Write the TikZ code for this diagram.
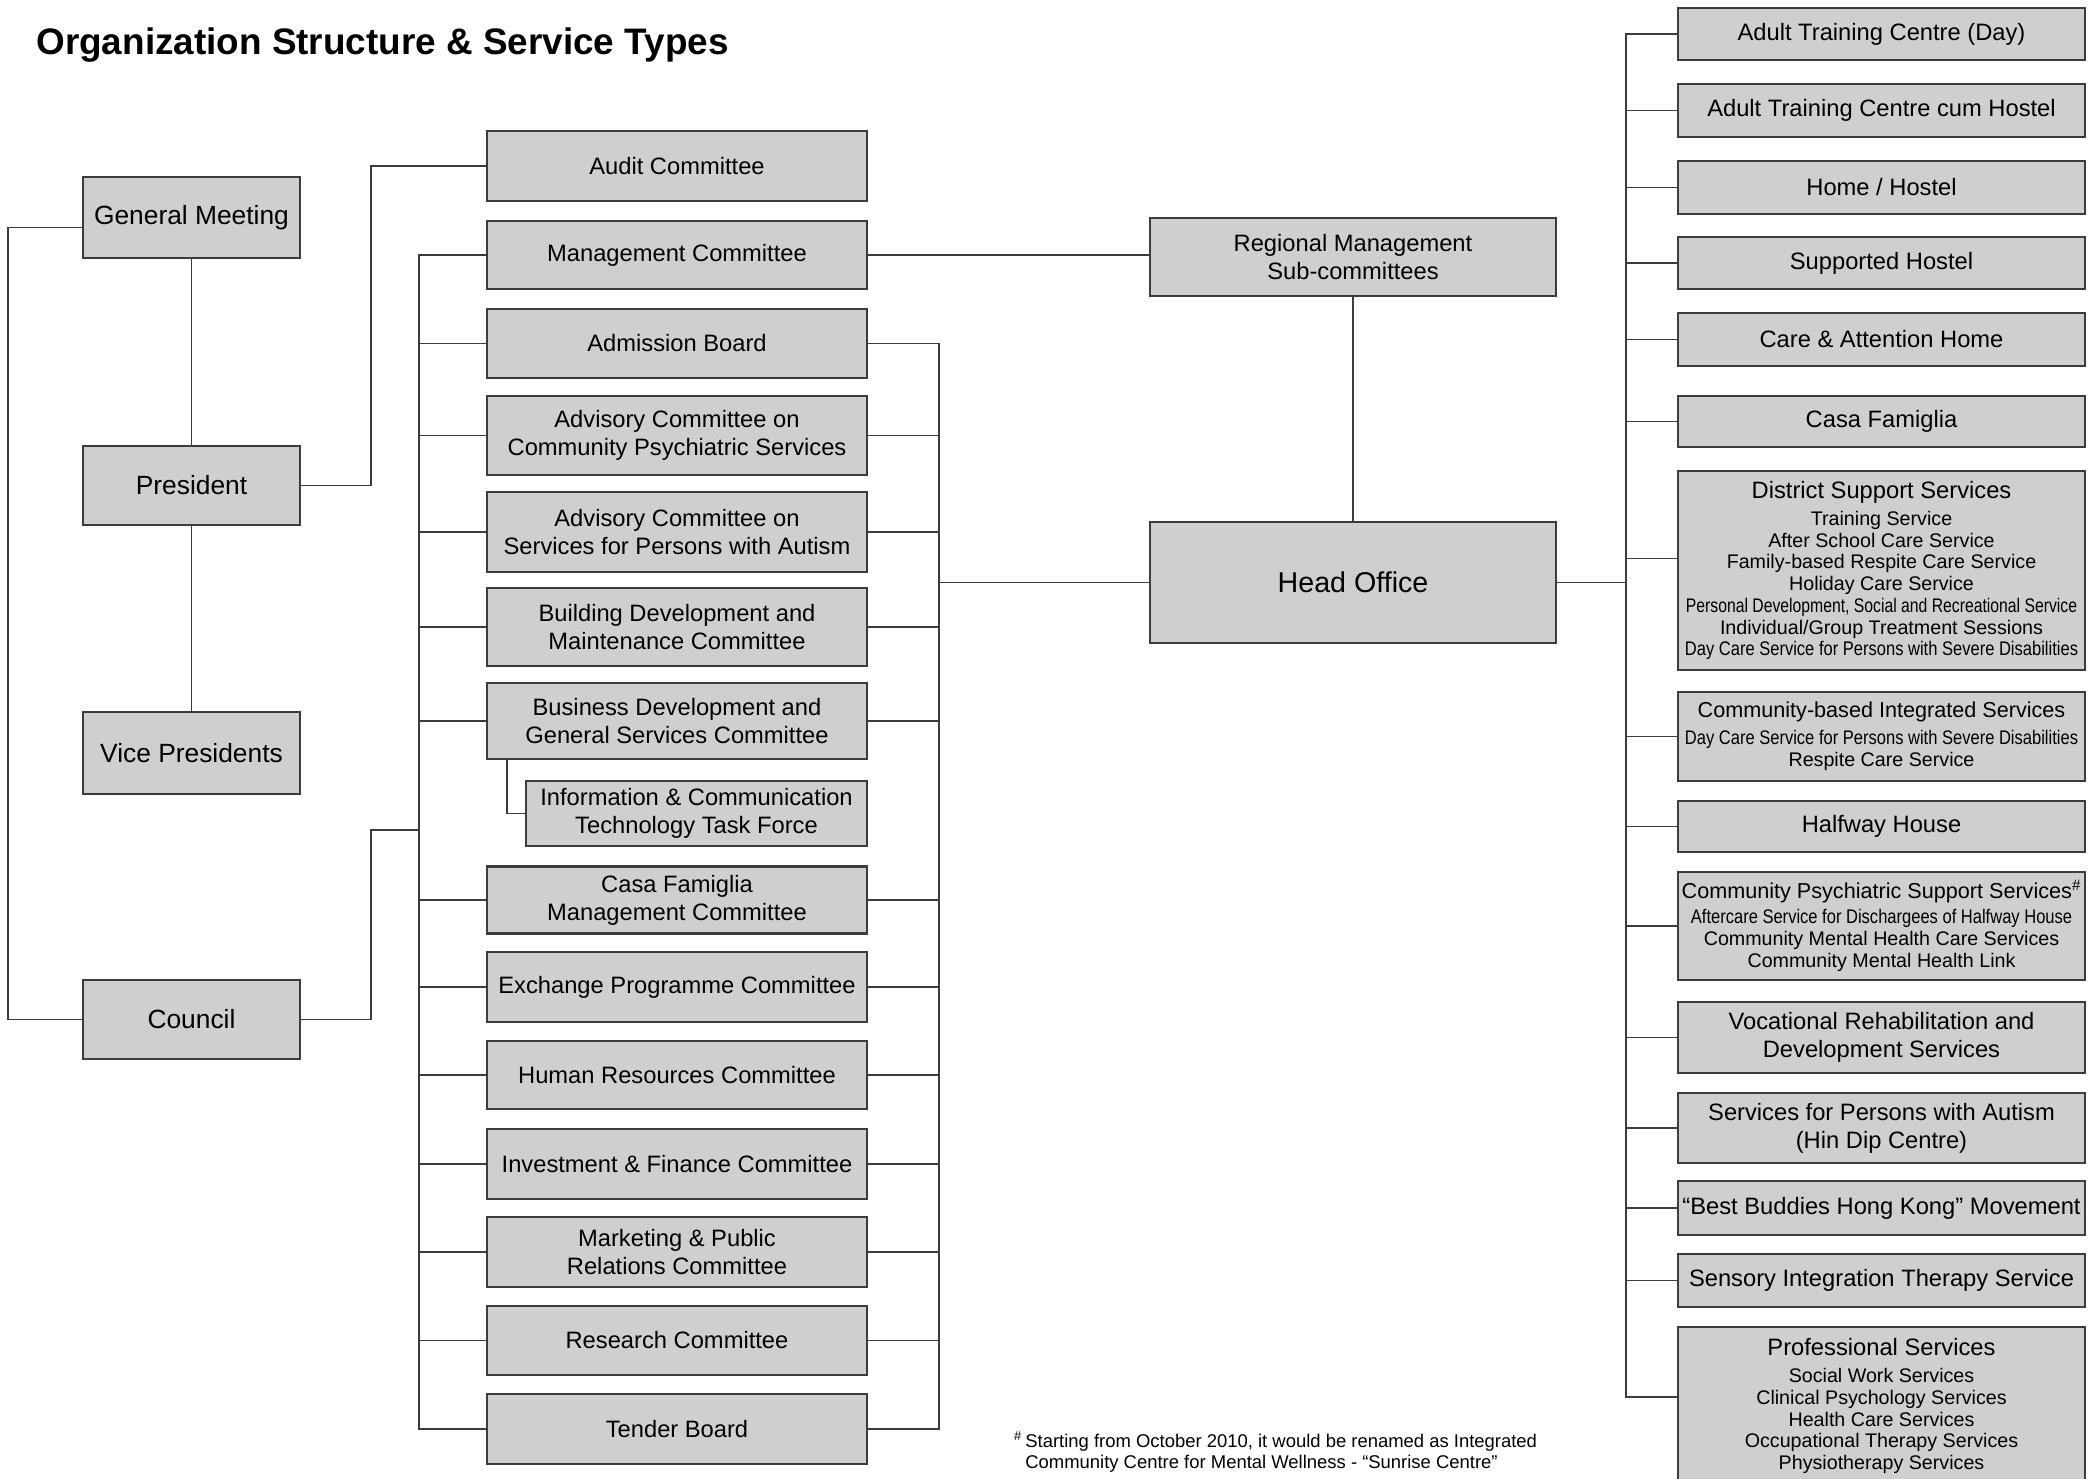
\documentclass[tikz,border=0pt]{standalone}
\usepackage{fontspec}
\setmainfont{Liberation Sans}
\newfontfamily\narrowfont[FakeStretch=0.84]{Liberation Sans}
\newfontfamily\narrowerfont[FakeStretch=0.8]{Liberation Sans}
\definecolor{boxfill}{RGB}{207,207,207}
\definecolor{edge}{RGB}{60,60,60}
\tikzset{
    box/.style={draw=edge, fill=boxfill, line width=1.3pt, inner sep=1pt, align=center, font=\fontsize{13.5}{16}\selectfont},
    topbox/.style={box, minimum width=4.34cm, font=\fontsize{15}{18}\selectfont},
    combox/.style={box, minimum width=7.6cm},
    svcbox/.style={box, minimum width=8.14cm},
    listbox/.style={svcbox, font=\fontsize{11.2}{12.4}\selectfont},
    link/.style={draw=edge, line width=1.1pt}
}
\newcommand{\listhead}[1]{{\fontsize{13.5}{16}\selectfont #1}}
\newcommand{\smallhead}[1]{{\fontsize{12.3}{15}\selectfont #1}}
\begin{document}
\begin{tikzpicture}[x=0.02cm, y=-0.02cm]
        \useasboundingbox (0,0) rectangle (2100,1478);
        \clip (0,0) rectangle (2100,1478);

        \node[anchor=west, inner sep=0, font=\bfseries\fontsize{21}{25}\selectfont] (title) at (36,45) {Organization Structure \& Service Types};

        \node[topbox, minimum height=1.62cm] (gm) at (191.5,217.5) {General Meeting};
        \node[topbox, minimum height=1.58cm] (pres) at (191.5,485.5) {President};
        \node[topbox, minimum height=1.64cm] (vp) at (191.5,753) {Vice Presidents};
        \node[topbox, minimum height=1.58cm] (council) at (191.5,1019.5) {Council};

        \node[combox, minimum height=1.4cm] (audit) at (677,166) {Audit Committee};
        \node[combox, minimum height=1.36cm] (mgmt) at (677,255) {Management Committee};
        \node[combox, minimum height=1.38cm] (admit) at (677,343.5) {Admission Board};
        \node[combox, minimum height=1.58cm] (advpsy) at (677,435.5) {Advisory Committee on\\Community Psychiatric Services};
        \node[combox, minimum height=1.6cm] (advaut) at (677,532) {Advisory Committee on\\Services for Persons with Autism};
        \node[combox, minimum height=1.56cm] (bldg) at (677,627) {Building Development and\\Maintenance Committee};
        \node[combox, minimum height=1.52cm] (busdev) at (677,721) {Business Development and\\General Services Committee};
        \node[box, minimum width=6.82cm, minimum height=1.3cm] (ict) at (696.5,813.5) {Information \& Communication\\Technology Task Force};
        \node[combox, minimum height=1.34cm] (casa) at (677,900) {Casa Famiglia\\Management Committee};
        \node[combox, minimum height=1.4cm] (exch) at (677,987) {Exchange Programme Committee};
        \node[combox, minimum height=1.36cm] (hr) at (677,1075) {Human Resources Committee};
        \node[combox, minimum height=1.4cm] (invest) at (677,1164) {Investment \& Finance Committee};
        \node[combox, minimum height=1.4cm] (mktg) at (677,1252) {Marketing \& Public\\Relations Committee};
        \node[combox, minimum height=1.38cm] (research) at (677,1340.5) {Research Committee};
        \node[combox, minimum height=1.4cm] (tender) at (677,1429) {Tender Board};

        \node[box, minimum width=8.12cm, minimum height=1.56cm] (reg) at (1353,257) {Regional Management\\Sub-committees};
        \node[box, minimum width=8.12cm, minimum height=2.42cm, font=\fontsize{16.3}{19}\selectfont] (ho) at (1353,582.5) {Head Office};

        \node[svcbox, minimum height=1.04cm] (atcday) at (1881.5,34) {Adult Training Centre (Day)};
        \node[svcbox, minimum height=1.06cm] (atchostel) at (1881.5,110.5) {Adult Training Centre cum Hostel};
        \node[svcbox, minimum height=1.06cm] (home) at (1881.5,187.5) {Home / Hostel};
        \node[svcbox, minimum height=1.04cm] (supp) at (1881.5,263) {Supported Hostel};
        \node[svcbox, minimum height=1.06cm] (care) at (1881.5,339.5) {Care \& Attention Home};
        \node[svcbox, minimum height=1.02cm] (casafam) at (1881.5,421.5) {Casa Famiglia};
        \node[listbox, minimum height=3.98cm] (district) at (1881.5,570.5) {\listhead{District Support Services}\\[3pt]
            Training Service\\After School Care Service\\Family-based Respite Care Service\\Holiday Care Service\\
            {\narrowerfont Personal Development, Social and Recreational Service}\\Individual/Group Treatment Sessions\\
            {\narrowfont Day Care Service for Persons with Severe Disabilities}};
        \node[listbox, minimum height=1.78cm] (commint) at (1881.5,736.5) {\smallhead{Community-based Integrated Services}\\[3pt]
            {\narrowfont Day Care Service for Persons with Severe Disabilities}\\Respite Care Service};
        \node[svcbox, minimum height=1.02cm] (halfway) at (1881.5,826.5) {Halfway House};
        \node[listbox, minimum height=2.16cm] (cpss) at (1881.5,926) {\smallhead{Community Psychiatric Support Services\textsuperscript{\#}}\\[2pt]
            {\narrowfont Aftercare Service for Dischargees of Halfway House}\\Community Mental Health Care Services\\Community Mental Health Link};
        \node[svcbox, minimum height=1.42cm] (voc) at (1881.5,1037.5) {Vocational Rehabilitation and\\Development Services};
        \node[svcbox, minimum height=1.4cm] (autism) at (1881.5,1128) {Services for Persons with Autism\\(Hin Dip Centre)};
        \node[svcbox, minimum height=1.08cm] (buddies) at (1881.5,1208) {“Best Buddies Hong Kong” Movement};
        \node[svcbox, minimum height=1.06cm] (sensory) at (1881.5,1280.5) {Sensory Integration Therapy Service};
        \node[listbox, minimum height=3.16cm] (prof) at (1881.5,1406) {\listhead{Professional Services}\\[3pt]
            Social Work Services\\Clinical Psychology Services\\Health Care Services\\Occupational Therapy Services\\Physiotherapy Services};

        \node[anchor=west, align=left, inner sep=0, font=\fontsize{10.5}{12.5}\selectfont] (note) at (1025,1452) {\llap{\textsuperscript{\#}\,}Starting from October 2010, it would be renamed as Integrated\\Community Centre for Mental Wellness - “Sunrise Centre”};

        \coordinate (lbus) at (419,830);
        \coordinate (rbus) at (939,579);
        \coordinate (sbus) at (1626,579);

        \draw[link] ([yshift=-0.2cm]gm.west) -- ++(-74,0) |- (council.west);
        \draw[link] (gm.south) -- (pres.north);
        \draw[link] (pres.south) -- (vp.north);
        \draw[link] (pres.east) -- ++(70,0) |- (audit.west);
        \draw[link] (council.east) -- ++(70,0) |- (lbus);

        \draw[link] (mgmt.west) -- (mgmt.west -| lbus) |- (tender.west);
        \foreach \c in {admit,advpsy,advaut,bldg,busdev,casa,exch,hr,invest,mktg,research}
            \draw[link] (\c.west) -- (\c.west -| lbus);
        \draw[link] (admit.east) -- (admit.east -| rbus) |- (tender.east);
        \foreach \c in {advpsy,advaut,bldg,busdev,casa,exch,hr,invest,mktg,research}
            \draw[link] (\c.east) -- (\c.east -| rbus);
        \draw[link] (ho.west -| rbus) -- (ho.west);
        \draw[link] ([xshift=0.42cm]busdev.south west) |- (ict.west);

        \draw[link] (mgmt.east) -- (mgmt.east -| reg.west);
        \draw[link] (reg.south) -- (ho.north);
        \draw[link] (ho.east) -- (ho.east -| sbus);

        \draw[link] (atcday.west) -- (atcday.west -| sbus) |- ([yshift=0.18cm]prof.west);
        \foreach \s in {atchostel,home,supp,care,casafam,commint,halfway,cpss,voc,autism,buddies,sensory}
            \draw[link] (\s.west) -- (\s.west -| sbus);
        \draw[link] ([yshift=0.24cm]district.west) -- ++(-52,0);
\end{tikzpicture}
\end{document}
